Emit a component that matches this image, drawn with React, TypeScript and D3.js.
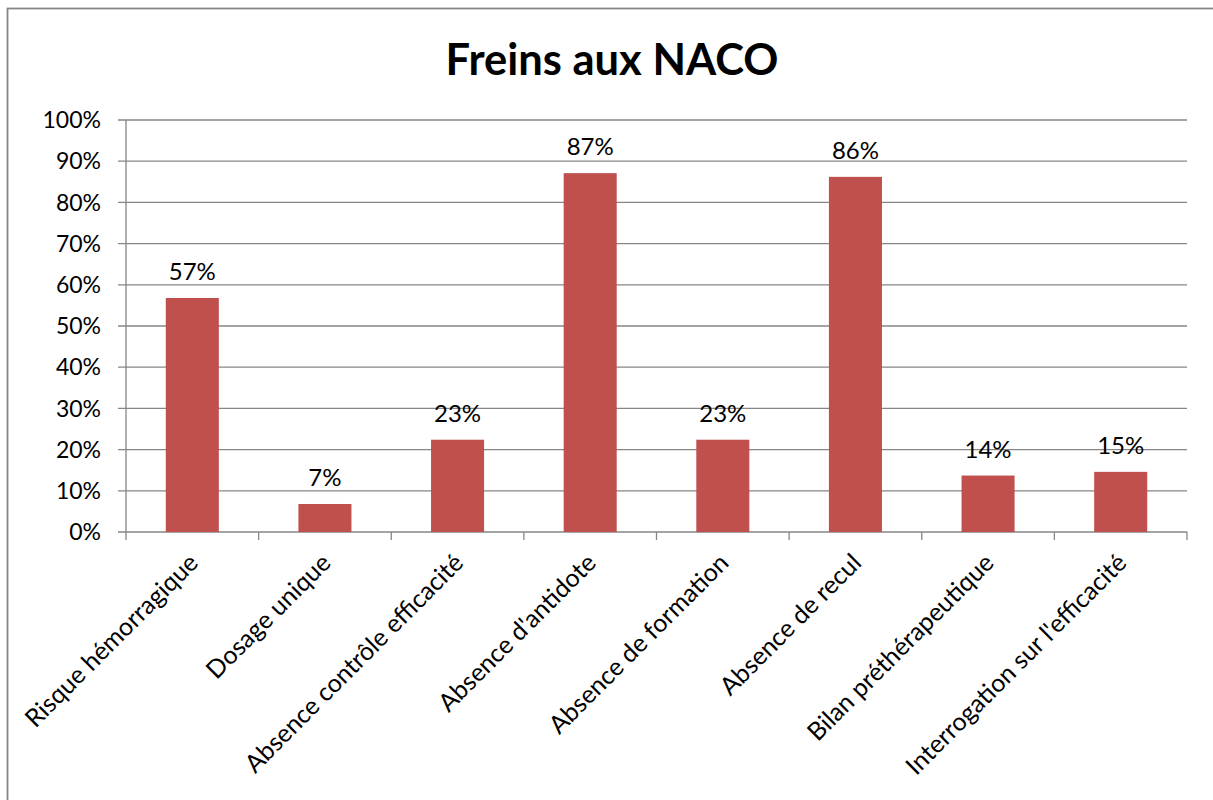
import React from "react";
import * as d3 from "d3";

const categories = [
  "Risque hémorragique",
  "Dosage unique",
  "Absence contrôle efficacité",
  "Absence d'antidote",
  "Absence de formation",
  "Absence de recul",
  "Bilan préthérapeutique",
  "Interrogation sur l'efficacité",
];
const values = [0.568, 0.068, 0.224, 0.871, 0.224, 0.862, 0.137, 0.146];
const dataLabels = ["57%", "7%", "23%", "87%", "23%", "86%", "14%", "15%"];
const yTicks = [0, 0.1, 0.2, 0.3, 0.4, 0.5, 0.6, 0.7, 0.8, 0.9, 1.0];

const W = 1213;
const H = 800;
const left = 126;
const right = 1187;
const top = 120;
const bottom = 532;
const FONT = "Lato, 'Open Sans', sans-serif";
const GRID = "#868686";
const BAR = "#C0504D";

export default function App() {
  const x = d3.scaleBand<string>().domain(categories).range([left, right]).paddingInner(0.6).paddingOuter(0.3);
  const band = d3.scaleBand<string>().domain(categories).range([left, right]);
  const y = d3.scaleLinear().domain([0, 1]).range([bottom, top]);
  const fmt = d3.format(".0%");

  return (
    <svg
      width={W}
      height={H}
      style={{ position: "absolute", left: 0, top: 0, background: "#fff" }}
    >
      <rect x={7.5} y={8.5} width={1230} height={820} fill="#fff" stroke={GRID} strokeWidth={1.8} />
      <text
        x={612}
        y={75}
        textAnchor="middle"
        fontFamily={FONT}
        fontWeight={700}
        fontSize={43.5}
        fill="#000"
      >
        Freins aux NACO
      </text>
      {/* gridlines and y ticks */}
      {yTicks.map((t) => (
        <g key={t}>
          <line x1={118} x2={right} y1={y(t)} y2={y(t)} stroke={GRID} strokeWidth={1.3} />
          <text
            x={101}
            y={y(t)}
            dy="0.36em"
            textAnchor="end"
            fontFamily={FONT}
            fontSize={23}
            fill="#000"
          >
            {fmt(t)}
          </text>
        </g>
      ))}
      {/* y axis */}
      <line x1={left} x2={left} y1={top} y2={bottom} stroke={GRID} strokeWidth={1.3} />
      {/* x ticks */}
      {categories.map((c, i) => (
        <line
          key={"t" + i}
          x1={band(c)!}
          x2={band(c)!}
          y1={bottom}
          y2={bottom + 8}
          stroke={GRID}
          strokeWidth={1.3}
        />
      ))}
      <line x1={right} x2={right} y1={bottom} y2={bottom + 8} stroke={GRID} strokeWidth={1.3} />
      {/* bars */}
      {categories.map((c, i) => (
        <rect
          key={"b" + i}
          x={x(c)!}
          y={y(values[i])}
          width={x.bandwidth()}
          height={bottom - y(values[i])}
          fill={BAR}
        />
      ))}
      {/* data labels */}
      {categories.map((c, i) => (
        <text
          key={"l" + i}
          x={x(c)! + x.bandwidth() / 2}
          y={y(values[i]) - 18}
          textAnchor="middle"
          fontFamily={FONT}
          fontSize={24}
          fill="#000"
        >
          {dataLabels[i]}
        </text>
      ))}
      {/* category labels */}
      {categories.map((c, i) => {
        const cx = x(c)! + x.bandwidth() / 2 - 5;
        const cy = bottom + 20;
        return (
          <text
            key={"c" + i}
            transform={`translate(${cx},${cy}) rotate(-45)`}
            textAnchor="end"
            fontFamily={FONT}
            fontSize={25}
            dy="0.7em"
            fill="#000"
          >
            {c}
          </text>
        );
      })}
    </svg>
  );
}
